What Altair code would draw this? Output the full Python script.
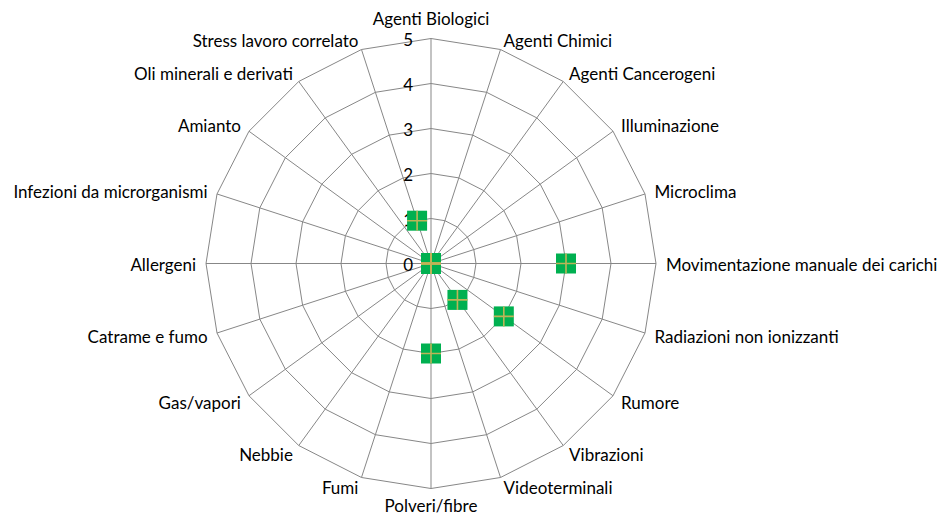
import numpy as np
import pandas as pd
import altair as alt

categories = [
    "Agenti Biologici", "Agenti Chimici", "Agenti Cancerogeni", "Illuminazione",
    "Microclima", "Movimentazione manuale dei carichi", "Radiazioni non ionizzanti",
    "Rumore", "Vibrazioni", "Videoterminali", "Polveri/fibre", "Fumi", "Nebbie",
    "Gas/vapori", "Catrame e fumo", "Allergeni", "Infezioni da microrganismi",
    "Amianto", "Oli minerali e derivati", "Stress lavoro correlato",
]
values = [0, 0, 0, 0, 0, 3, 0, 2, 1, 0, 2, 0, 0, 0, 0, 0, 0, 0, 0, 1]
ticks = [0, 1, 2, 3, 4, 5]

N = len(categories)
RMAX = max(ticks)
ang = np.arange(N) * 2 * np.pi / N
s, c = np.sin(ang), np.cos(ang)

# rings
ring_rows = []
for lv in ticks[1:]:
    for k in range(N + 1):
        ring_rows.append({"ring": lv, "k": k, "x": lv * s[k % N], "y": lv * c[k % N]})
rings = pd.DataFrame(ring_rows)

spokes = pd.DataFrame({"x": 0.0, "y": 0.0, "x2": RMAX * s, "y2": RMAX * c})

pts = pd.DataFrame({"cat": categories, "v": values,
                    "x": np.array(values) * s, "y": np.array(values) * c})

side = np.where(s > 0.01, "right", np.where(s < -0.01, "left", np.where(c > 0, "top", "bottom")))
lr = np.where(np.abs(s) < 0.01, np.where(c > 0, RMAX + 0.29, RMAX + 0.52), RMAX + 0.22)
labels = pd.DataFrame({"cat": categories, "side": side, "x": lr * s, "y": lr * c})

tickdf = pd.DataFrame({"t": [str(t) for t in ticks], "x": 0.0, "y": ticks})

W, H = 930, 509
CX, CY = 423, 255.5
PX = 45.0
xs = alt.Scale(domain=[-CX / PX, (W - CX) / PX], nice=False, zero=False)
ys = alt.Scale(domain=[-(H - CY) / PX, CY / PX], nice=False, zero=False)
X = lambda f="x": alt.X(f"{f}:Q", scale=xs, axis=None)
Y = lambda f="y": alt.Y(f"{f}:Q", scale=ys, axis=None)

GRID = "#878787"
FONT = "Lato"
FS = 17

ring_layer = alt.Chart(rings).mark_line(color=GRID, strokeWidth=1).encode(
    x=X(), y=Y(), detail="ring:N", order="k:Q")
spoke_layer = alt.Chart(spokes).mark_rule(color=GRID, strokeWidth=1).encode(
    x=X(), y=Y(), x2="x2:Q", y2="y2:Q")
tick_layer = alt.Chart(tickdf).mark_text(
    align="right", baseline="middle", dx=-18, dy=2, font=FONT, fontSize=FS, color="#000000"
).encode(x=X(), y=Y(), text="t:N")

sq_layer = alt.Chart(pts).mark_square(size=400, color="#00B050", opacity=1, filled=True).encode(
    x=X(), y=Y())
cross_layer = alt.Chart(pts).mark_point(
    shape="M-1,0L1,0M0,-1L0,1", size=400, filled=False, stroke="#BDB457", strokeWidth=1.6, opacity=1
).encode(x=X(), y=Y())

def lab(sd, align, baseline, dy=0):
    return alt.Chart(labels).transform_filter(alt.datum.side == sd).mark_text(
        align=align, baseline=baseline, dy=dy, font=FONT, fontSize=FS, color="#000000"
    ).encode(x=X(), y=Y(), text="cat:N")

chart = alt.layer(
    ring_layer, spoke_layer, tick_layer, sq_layer, cross_layer,
    lab("right", "left", "middle", 2), lab("left", "right", "middle", 2),
    lab("top", "center", "alphabetic"), lab("bottom", "center", "alphabetic"),
).properties(width=W, height=H, padding=0, autosize="none", background="white"
).configure_view(stroke=None)

chart.save("out.html", embed_options={"renderer": "svg", "actions": False})
